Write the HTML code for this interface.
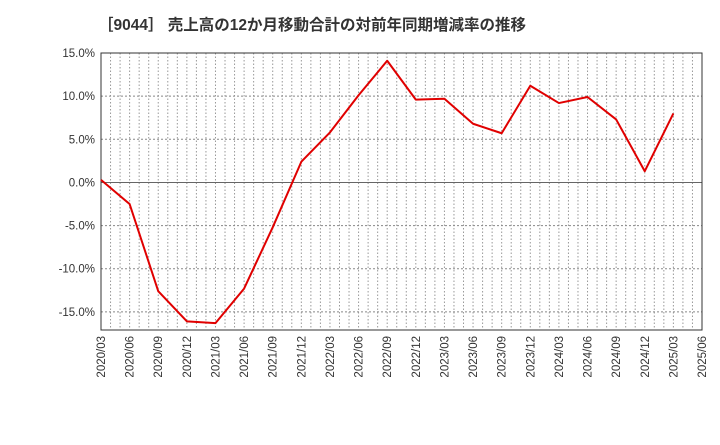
<!DOCTYPE html>
<html><head><meta charset="utf-8"><style>
body{margin:0;background:#fff;width:720px;height:440px;overflow:hidden}
text{font-family:"Liberation Sans","Noto Sans CJK JP",sans-serif}
</style></head><body>
<svg id="chart" width="720" height="440" xmlns="http://www.w3.org/2000/svg">
<text x="98" y="30" font-size="15.5" font-weight="bold" fill="#333">［9044］ 売上高の12か月移動合計の対前年同期増減率の推移</text>
<g id="grid"></g><g id="axes"></g><g id="series"></g>
</svg>
<script>
const categories=["2020/03","2020/06","2020/09","2020/12","2021/03","2021/06","2021/09","2021/12","2022/03","2022/06","2022/09","2022/12","2023/03","2023/06","2023/09","2023/12","2024/03","2024/06","2024/09","2024/12","2025/03","2025/06"];
const values=[0.3,-2.5,-12.6,-16.1,-16.3,-12.3,-5.2,2.4,5.8,10.1,14.1,9.6,9.7,6.8,5.7,11.2,9.2,9.9,7.3,1.3,8.0];
const yTicks=[15,10,5,0,-5,-10,-15];
const yTickLabels=["15.0%","10.0%","5.0%","0.0%","-5.0%","-10.0%","-15.0%"];
const L=101,R=702,T=53,B=330,yMax=15,yMin=-17.1;
const NS="http://www.w3.org/2000/svg";
const xs=i=>L+(R-L)*i/(categories.length-1);
const ys=v=>T+(B-T)*(yMax-v)/(yMax-yMin);
function mk(tag,attrs,parent){const e=document.createElementNS(NS,tag);for(const k in attrs)e.setAttribute(k,attrs[k]);document.getElementById(parent).appendChild(e);return e;}
const nMonths=(categories.length-1)*3;
for(let m=1;m<nMonths;m++){const x=L+(R-L)*m/nMonths;
const g=mk("line",{x1:x,x2:x,y1:T,y2:B,stroke:"#999","stroke-dasharray":"1.5,2","stroke-width":1},"grid");

}
yTicks.forEach((v,i)=>{const y=ys(v);
const g=mk("line",{x1:L,x2:R,y1:y,y2:y,stroke:v===0?"#666":"#888","stroke-dasharray":v===0?"none":"2,2","stroke-width":1},"grid");


const t=mk("text",{x:L-6,y:y+4,"text-anchor":"end","font-size":"11.5",fill:"#333"},"axes");t.textContent=yTickLabels[i];

});
categories.forEach((c,i)=>{const x=xs(i);
const t=mk("text",{x:0,y:0,"text-anchor":"end","font-size":"11.5",fill:"#333",transform:`translate(${x+4},${B+6}) rotate(-90)`},"axes");t.textContent=c;

});
const f=mk("rect",{x:L,y:T,width:R-L,height:B-T,fill:"none",stroke:"#333","stroke-width":1},"axes");


const p=mk("polyline",{points:values.map((v,i)=>xs(i)+","+ys(v)).join(" "),fill:"none",stroke:"#e00000","stroke-width":2,"stroke-linejoin":"round"},"series");


</script>
</body></html>
